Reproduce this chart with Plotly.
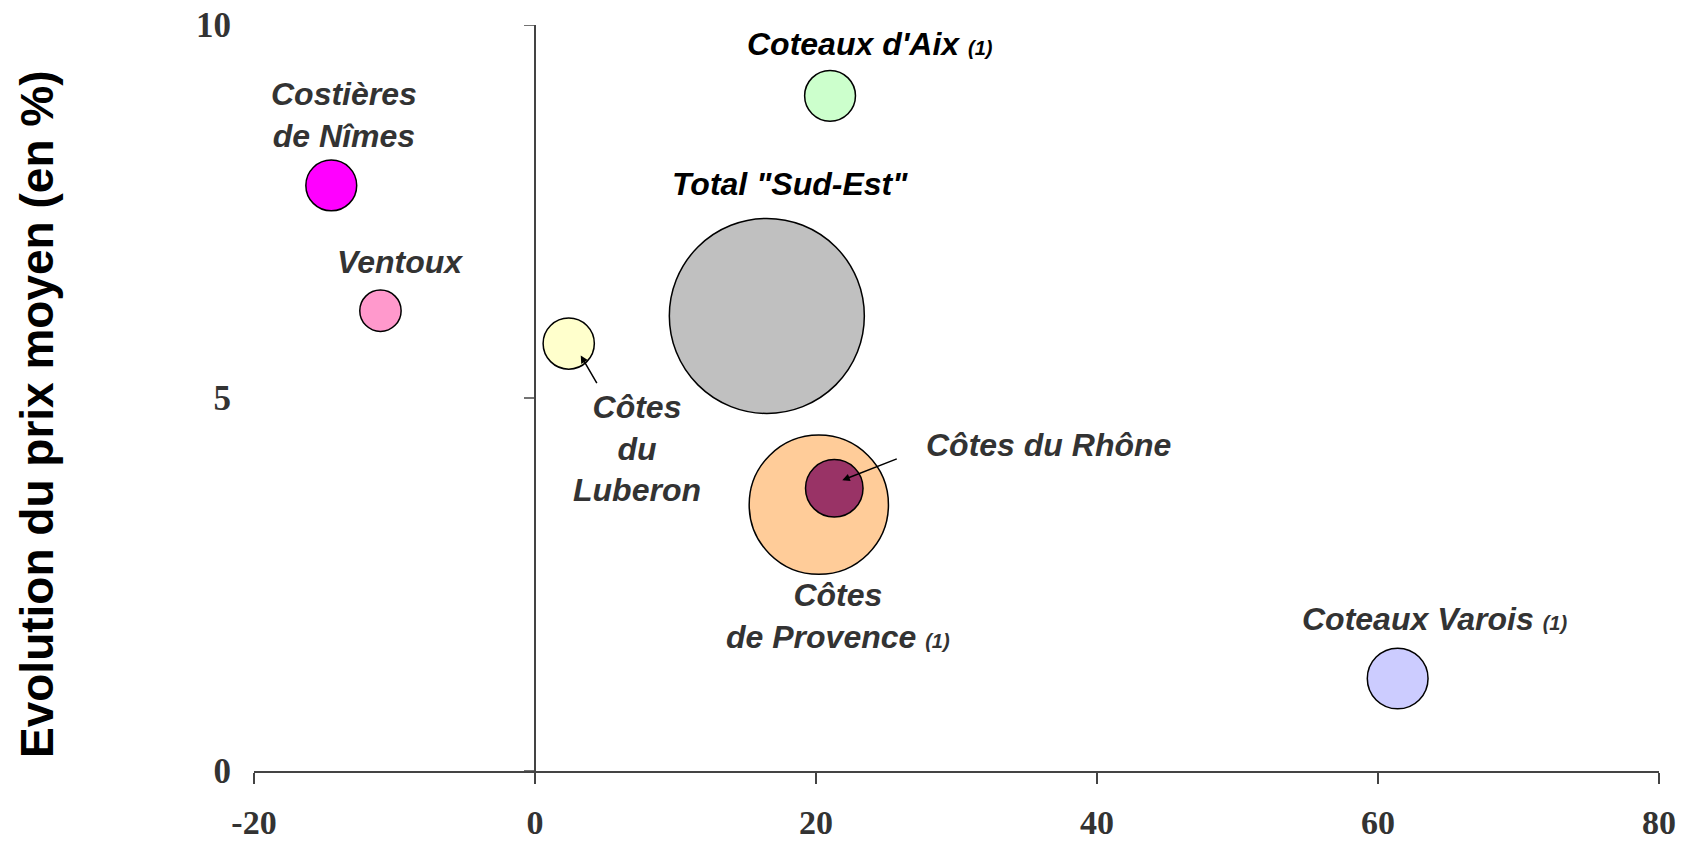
import plotly.graph_objects as go

# --- data -------------------------------------------------------------
appellations = ['Total "Sud-Est"', "Côtes de Provence", "Côtes du Rhône",
                "Costières de Nîmes", "Ventoux", "Côtes du Luberon",
                "Coteaux d'Aix", "Coteaux Varois"]
evol_volume = [16.5, 20.2, 21.3, -14.5, -11.0, 2.4, 21.0, 61.4]     # x
evol_prix = [6.10, 3.57, 3.79, 7.85, 6.17, 5.73, 9.05, 1.24]        # y (%)
poids = [100, 51.0, 8.7, 6.8, 4.5, 6.9, 6.8, 9.7]                  # bubble area
couleurs = ["#C0C0C0", "#FFCC99", "#993366", "#FF00FF", "#FF99CC",
            "#FFFFCC", "#CCFFCC", "#CCCCFF"]

x_ticks = [-20, 0, 20, 40, 60, 80]
y_ticks = [0, 5, 10]

# label text, colour and pixel offset from the bubble centre
small = "<span style='font-size:20px'>(1)</span>"
labels = {
    'Total "Sud-Est"': ('Total "Sud-Est"', "#000000", 23, 132),
    "Côtes de Provence": ("Côtes<br>de Provence " + small, "#333333", 19, -111),
    "Côtes du Rhône": ("Côtes du Rhône", "#333333", 214, 43),
    "Costières de Nîmes": ("Costières<br>de Nîmes", "#333333", 13, 70),
    "Ventoux": ("Ventoux", "#333333", 20, 49),
    "Côtes du Luberon": ("Côtes<br>du<br>Luberon", "#333333", 68, -105),
    "Coteaux d'Aix": ("Coteaux d'Aix " + small, "#000000", 40, 52),
    "Coteaux Varois": ("Coteaux Varois " + small, "#333333", 37, 60),
}
# arrows: (head shift x, head shift y, tail offset ax, ay)
arrows = {
    "Côtes du Luberon": (12, -12, 17, 29),
    "Côtes du Rhône": (8, 8, 56, -22),
}

W, H = 1682, 843
ML, MR, MT, MB = 254, 23, 25, 72
max_diam = 195
axis_col = "#444444"

fig = go.Figure()
fig.add_trace(go.Scatter(
    x=evol_volume, y=evol_prix, mode="markers",
    marker=dict(size=poids, sizemode="area",
                sizeref=2.0 * max(poids) / (max_diam ** 2),
                color=couleurs, opacity=1,
                line=dict(color="#000000", width=1.5)),
    hoverinfo="skip", showlegend=False,
))

label_font = dict(family="Liberation Sans, Arial, sans-serif", size=32,
                  weight="bold", style="italic")
for name, xv, yv in zip(appellations, evol_volume, evol_prix):
    text, col, dx, dy = labels[name]
    fig.add_annotation(x=xv, y=yv, xref="x", yref="y", text=text,
                       showarrow=False, xshift=dx, yshift=dy,
                       xanchor="center", yanchor="middle", align="center",
                       font=dict(label_font, color=col))
    if name in arrows:
        hx, hy, ax, ay = arrows[name]
        fig.add_annotation(x=xv, y=yv, xref="x", yref="y", text="",
                           showarrow=True, arrowhead=2, arrowsize=1,
                           arrowwidth=1.5, arrowcolor="#000000",
                           xshift=hx, yshift=hy, ax=ax, ay=ay)

# tick marks on the vertical axis drawn through x = 0
for t in y_ticks:
    fig.add_shape(type="line", xref="x", yref="y", xsizemode="pixel",
                  xanchor=0, x0=-11, x1=0, y0=t, y1=t,
                  line=dict(color=axis_col, width=1.5))
# short run-out of the horizontal axis past the last tick
fig.add_shape(type="line", xref="x", yref="y", xsizemode="pixel",
              xanchor=x_ticks[-1], x0=0, x1=15, y0=0, y1=0,
              line=dict(color=axis_col, width=1.5))

tick_font = dict(family="Liberation Serif, Times New Roman, serif", size=35,
                 color="#333333", weight="bold")

fig.update_xaxes(range=[-20, 80], tickvals=x_ticks, ticktext=[str(v) for v in x_ticks],
                 showline=True, linecolor=axis_col, linewidth=1.5,
                 ticks="outside", ticklen=11, tickwidth=1.5, tickcolor=axis_col,
                 tickfont=dict(tick_font, size=34), ticklabelstandoff=9,
                 automargin=False,
                 showgrid=False, zeroline=True, zerolinecolor=axis_col,
                 zerolinewidth=1.5)
fig.update_yaxes(range=[0, 10], tickvals=y_ticks, ticktext=[str(v) for v in y_ticks],
                 showline=False, ticks="", tickfont=tick_font, automargin=False,
                 ticklabelstandoff=22, showgrid=False, zeroline=False)

fig.add_annotation(text="Evolution du prix moyen (en %)", textangle=-90,
                   xref="paper", yref="paper",
                   x=(37 - ML) / (W - ML - MR), y=(H - MB - 415) / (H - MT - MB),
                   xanchor="center", yanchor="middle", showarrow=False,
                   font=dict(family="Liberation Sans, Arial, sans-serif", size=46,
                             color="#000000", weight="bold"))

fig.update_layout(width=W, height=H, margin=dict(l=ML, r=MR, t=MT, b=MB),
                  plot_bgcolor="white", paper_bgcolor="white",
                  showlegend=False)

fig.write_html("out.html")
